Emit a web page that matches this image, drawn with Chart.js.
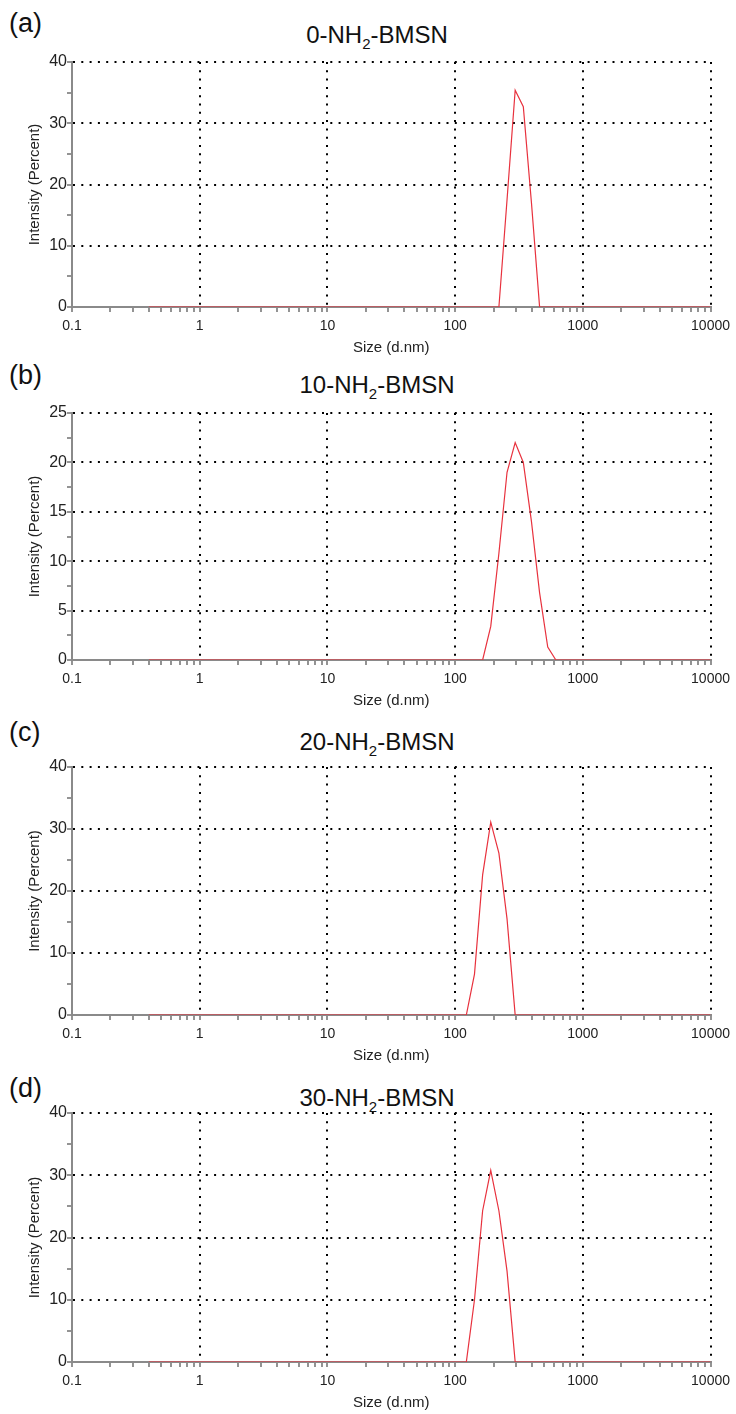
<!DOCTYPE html>
<html><head><meta charset="utf-8">
<script src="https://cdn.jsdelivr.net/npm/chart.js@4.4.1/dist/chart.umd.min.js"></script>
<style>
html,body{margin:0;padding:0;background:#fff;}
body{width:736px;height:1414px;position:relative;overflow:hidden;font-family:'Liberation Sans',Arial,sans-serif;}
canvas.cv{position:absolute;left:0;}
.ttl{position:absolute;font-size:24px;line-height:24px;color:#111;white-space:nowrap;transform:translateX(-50%);}
.ttl sub{font-size:15px;vertical-align:baseline;position:relative;top:6px;line-height:0;}
.lbl{position:absolute;left:9px;font-size:27px;line-height:27px;color:#111;white-space:nowrap;}
</style></head><body>
<script>
// ---- data ----
const sizeTickLabels = ['0.1', '1', '10', '100', '1000', '10000'];
const panelLetters = ['(a)', '(b)', '(c)', '(d)'];
const panelPrefixes = ['0', '10', '20', '30'];
const yMaxima = [40, 25, 40, 40];
const yLabelSteps = [10, 5, 10, 10];
const yMinorSteps = [5, 2.5, 5, 5];
const xAxisTitle = 'Size (d.nm)';
const yAxisTitle = 'Intensity (Percent)';

const sizesA = [0.4, 220.2, 255.0, 295.3, 342.0, 396.1, 458.7, 10000];
const intensityA = [0, 0, 17.5, 35.4, 32.7, 17.0, 0, 0];

const sizesB = [0.4, 164.2, 190.1, 220.2, 255.0, 295.3, 342.0, 396.1, 458.7, 531.2, 615.1, 10000];
const intensityB = [0, 0, 3.4, 10.8, 19.0, 22.0, 20.0, 14.0, 6.8, 1.3, 0, 0];

const sizesC = [0.4, 122.4, 141.8, 164.2, 190.1, 220.2, 255.0, 295.3, 10000];
const intensityC = [0, 0, 6.6, 22.6, 31.1, 26.1, 15.5, 0, 0];

const sizesD = [0.4, 122.4, 141.8, 164.2, 190.1, 220.2, 255.0, 295.3, 10000];
const intensityD = [0, 0, 10.0, 24.3, 30.8, 24.3, 14.6, 0, 0];

// ---- layout ----
const plotTops = [62, 413, 767, 1113];
const plotBottoms = [307, 660, 1015, 1362];
const titleBaselines = [43, 393, 750, 1106];
const letterCenters = [26, 378, 735, 1091];
const PAD_TOP = 14, XAXIS_H = 52, YAXIS_W = 72, PAD_RIGHT = 23;

const seriesSizes = [sizesA, sizesB, sizesC, sizesD];
const seriesValues = [intensityA, intensityB, intensityC, intensityD];

Chart.defaults.font.family = "'Liberation Sans', Arial, sans-serif";
Chart.defaults.color = '#222';

const AXIS_GREY = '#8a8a8a';
const TICK_GREY = '#5a5a5a';
const DOT = [2, 6.3];

function isDecade(v) {
  const l = Math.log10(v);
  return Math.abs(l - Math.round(l)) < 1e-6;
}

for (let p = 0; p < 4; p++) {
  const lb = document.createElement('div');
  lb.className = 'lbl';
  lb.textContent = panelLetters[p];
  lb.style.top = (letterCenters[p] - 15.6) + 'px';
  document.body.appendChild(lb);

  const tt = document.createElement('div');
  tt.className = 'ttl';
  tt.innerHTML = panelPrefixes[p] + '-NH<sub>2</sub>-BMSN';
  tt.style.left = '377px';
  tt.style.top = (titleBaselines[p] - 20.3) + 'px';
  document.body.appendChild(tt);

  const cv = document.createElement('canvas');
  cv.className = 'cv';
  const h = plotBottoms[p] - plotTops[p] + PAD_TOP + XAXIS_H;
  cv.width = 736; cv.height = h;
  cv.style.width = '736px'; cv.style.height = h + 'px';
  cv.style.top = (plotTops[p] - PAD_TOP) + 'px';
  document.body.appendChild(cv);

  const yMax = yMaxima[p], yStep = yLabelSteps[p], yMinor = yMinorSteps[p];
  const pts = seriesSizes[p].map((s, i) => ({x: s, y: seriesValues[p][i]}));

  new Chart(cv.getContext('2d'), {
    type: 'line',
    data: {datasets: [{
      data: pts,
      borderColor: '#e8323e',
      borderWidth: 1.2,
      pointRadius: 0,
      tension: 0,
      fill: false
    }]},
    options: {
      responsive: false,
      animation: false,
      devicePixelRatio: 1,
      layout: {padding: {top: PAD_TOP, right: PAD_RIGHT, left: 0, bottom: 0}},
      plugins: {legend: {display: false}, tooltip: {enabled: false}, title: {display: false}},
      scales: {
        x: {
          type: 'logarithmic',
          min: 0.1, max: 10000,
          afterBuildTicks: (scale) => {
            const t = [];
            for (let d = 0; d < sizeTickLabels.length; d++) {
              const base = parseFloat(sizeTickLabels[d]);
              t.push({value: base, major: true});
              if (d < sizeTickLabels.length - 1) {
                for (let m = 2; m <= 9; m++) t.push({value: base * m, major: false});
              }
            }
            scale.ticks = t;
          },
          afterFit: (scale) => { scale.height = XAXIS_H; },
          ticks: {
            autoSkip: false, maxRotation: 0, padding: 6,
            font: {size: 14},
            callback: (v) => isDecade(v) ? sizeTickLabels[Math.round(Math.log10(v)) + 1] : ''
          },
          grid: {
            color: (ctx) => (ctx.tick && isDecade(ctx.tick.value) && ctx.tick.value > 0.11) ? '#000' : 'rgba(0,0,0,0)',
            lineWidth: 2,
            tickColor: TICK_GREY,
            tickLength: 5,
            tickWidth: 1.3
          },
          border: {display: true, color: AXIS_GREY, width: 2, dash: DOT},
          title: {display: true, text: xAxisTitle, font: {size: 15}, color: '#222', padding: {top: 0, bottom: 2}}
        },
        y: {
          type: 'linear',
          min: 0, max: yMax,
          afterBuildTicks: (scale) => {
            const t = [];
            for (let v = 0; v <= yMax + 1e-9; v += yMinor) t.push({value: v});
            scale.ticks = t;
          },
          afterFit: (scale) => { scale.width = YAXIS_W; },
          ticks: {
            autoSkip: false, padding: 0,
            font: {size: 16},
            callback: (v) => (Math.abs(v / yStep - Math.round(v / yStep)) < 1e-6) ? String(v) : ''
          },
          grid: {
            color: (ctx) => {
              if (!ctx.tick) return 'rgba(0,0,0,0)';
              const v = ctx.tick.value;
              return (v > 0 && Math.abs(v / yStep - Math.round(v / yStep)) < 1e-6) ? '#000' : 'rgba(0,0,0,0)';
            },
            lineWidth: 2,
            tickColor: TICK_GREY,
            tickLength: 5,
            tickWidth: 1.3
          },
          border: {display: true, color: AXIS_GREY, width: 2, dash: DOT},
          title: {display: true, text: yAxisTitle, font: {size: 15}, color: '#222', padding: {top: 26, bottom: 0}}
        }
      }
    }
  });
}
</script>
</body></html>
